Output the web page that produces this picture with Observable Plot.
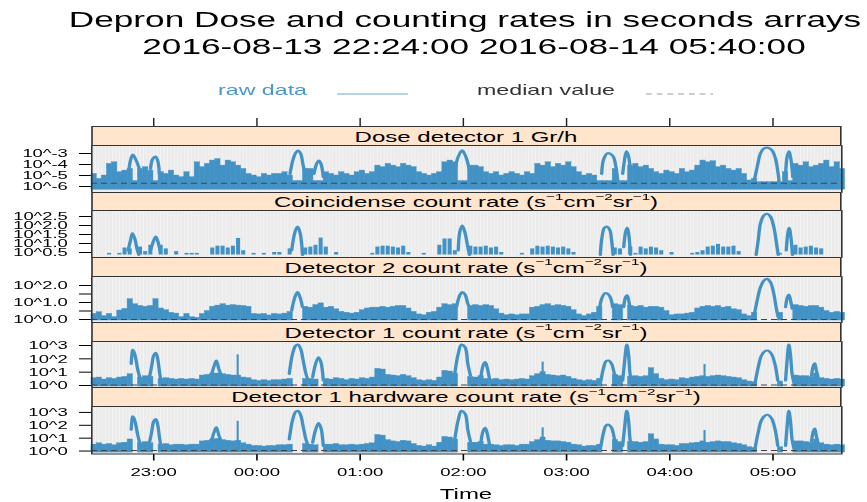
<!DOCTYPE html>
<html><head><meta charset="utf-8">
<script src="https://cdn.jsdelivr.net/npm/d3@7"></script>
<script src="https://cdn.jsdelivr.net/npm/@observablehq/plot@0.6"></script>
<style>
html,body{margin:0;padding:0;background:#fff;overflow:hidden;width:867px;height:502px}
#page{position:absolute;left:0;top:0;width:541.875px;height:502px;transform:scaleX(1.6);transform-origin:0 0;font-family:'Liberation Sans',Arial,Helvetica,sans-serif;}
.abs{position:absolute;white-space:nowrap;line-height:1}
.strip{position:absolute;left:56.875px;width:468.75px;background:#ffe5cc;border:1px solid #333;box-sizing:border-box;text-align:center;font-size:15px;color:#000;display:flex;align-items:center;justify-content:center;white-space:nowrap}
.sup{font-size:9.5px;position:relative;top:-5px;line-height:0}
.panel{position:absolute;left:0}
</style></head><body><div id="page"></div>
<script>
// ---------------- data (log10 values, 3-minute bins from 22:24) ----------------
const startLabel = "2016-08-13 22:24:00";
const endLabel = "2016-08-14 05:40:00";
const xTickLabels = ["23:00","00:00","01:00","02:00","03:00","04:00","05:00"];

const doseTicks = [-3,-4,-5,-6];
const doseTickLabels = ["10^-3","10^-4","10^-5","10^-6"];
const coincTicks = [2.5,2.0,1.5,1.0,0.5];
const coincTickLabels = ["10^2.5","10^2.0","10^1.5","10^1.0","10^0.5"];
const det2Ticks = [2.0,1.5,1.0,0.5,0.0];
const det2TickLabels = ["10^2.0","","10^1.0","","10^0.0"];
const det1Ticks = [3,2,1,0];
const det1TickLabels = ["10^3","10^2","10^1","10^0"];

const doseHi = [
-4.85,-5.3,-5.0,-3.94,-3.8,-4.7,-4.55,-4.4,-5.5,-4.4,
-4.24,-4.55,-5.5,-4.7,-4.85,-4.55,-5.0,-5.15,-4.7,-5.15,
-3.8,-4.24,-3.94,-3.64,-3.5,-4.1,-3.64,-3.8,-4.1,-4.4,
-4.85,-5.0,-5.15,-4.85,-5.0,-4.85,-4.85,-4.7,-5.0,-5.5,
-5.5,-4.4,-4.4,-5.5,-5.5,-4.7,-4.85,-5.0,-4.7,-4.85,
-5.0,-4.7,-4.55,-4.85,-4.7,-4.1,-4.24,-3.94,-4.1,-4.24,
-3.94,-4.1,-4.24,-4.7,-4.85,-5.0,-4.85,-4.7,-3.8,-3.64,
-3.8,-5.5,-5.5,-4.1,-4.1,-4.24,-4.7,-4.85,-4.7,-5.0,
-4.85,-4.7,-4.85,-5.0,-4.7,-4.85,-3.94,-4.1,-3.8,-4.24,
-3.94,-4.1,-3.8,-4.24,-4.7,-5.0,-4.85,-5.0,-5.5,-5.5,
-5.5,-4.4,-5.5,-5.5,-4.1,-3.94,-4.24,-4.1,-4.4,-4.7,
-4.85,-4.55,-4.7,-4.85,-4.4,-4.7,-4.55,-4.1,-3.64,-3.8,
-3.7,-4.24,-4.1,-4.4,-4.55,-4.4,-4.85,-5.45,-5.3,-5.6,
-5.6,-5.6,-5.6,-5.6,-4.7,-5.5,-3.94,-4.1,-3.8,-4.24,
-4.1,-3.94,-3.64,-4.24,-3.8,-4.4];
const doseArcs = [
["A",21.5,-4.55],["A",22.5,-3.64],["A",23.8,-3.1],["A",25.4,-3.5],["A",27.3,-4.24],["A",28.3,-4.85],
["B",34.1,-4.4],["B",35.4,-3.5],["B",37,-3.27],["B",38.3,-3.64],["B",39.3,-4.85],
["C",115.2,-4.85],["C",117.1,-3.5],["C",118.7,-2.9],["C",120,-2.73],["C",121.4,-3.0],["C",122.9,-4.1],["C",124.5,-5.15],
["D",129.1,-4.85],["D",130.7,-3.94],["D",132,-3.64],["D",133.2,-3.94],["D",134.6,-5.15],
["E",211,-4.55],["E",213,-3.3],["E",215.3,-2.7],["E",216.6,-3.0],["E",218.2,-3.64],["E",219.5,-4.55],
["F",296.4,-4.85],["F",297.6,-3.5],["F",299.9,-2.97],["F",302.8,-3.2],["F",304.7,-4.24],["F",305.7,-5.45],
["G",308.6,-4.85],["G",310,-3.3],["G",310.9,-2.79],["G",312.1,-3.3],["G",313.5,-5.15],
["H",384.9,-5.6],["H",386.8,-4.24],["H",388.7,-3.0],["H",390.7,-2.55],["H",393.2,-2.48],["H",395.5,-2.73],["H",397.5,-3.5],["H",399,-4.85],["H",399.8,-6.06],
["I",403.3,-4.85],["I",404.2,-3.3],["I",405.2,-2.79],["I",406.4,-3.5],["I",407.5,-5.15]];
const doseMedian = -5.7;

const coincHi = [
null,null,null,0.45,null,0.45,0.75,0.7,null,0.8,
0.55,0.9,null,0.9,0.7,null,0.55,null,0.45,0.45,
0.45,null,null,0.75,0.85,0.85,0.75,0.85,1.28,0.6,
null,0.45,null,0.45,null,0.5,0.5,null,0.7,null,
null,0.75,0.8,0.9,1.3,0.8,null,0.5,null,null,
null,null,null,null,0.45,0.8,0.85,0.85,0.8,0.75,
0.85,0.5,null,null,0.45,null,null,0.9,1.25,1.25,
0.6,null,null,0.85,0.8,0.8,0.85,0.75,0.8,0.5,
null,null,null,0.45,null,0.7,0.85,0.8,0.85,0.8,
0.75,0.8,0.7,0.5,null,null,null,null,null,null,
null,0.75,0.7,null,0.8,0.45,0.8,0.7,0.8,0.75,
0.6,null,0.5,null,null,null,0.45,0.5,0.6,0.8,
0.85,0.95,0.8,0.8,0.85,0.55,null,null,null,null,
null,null,null,0.45,null,null,0.9,0.75,0.8,0.85,
0.75,0.7,null,null,null,null];
const coincArcs = [
["A",21.1,0.61],["A",22.5,1.17],["A",23.6,1.57],["A",25,1.26],["A",26.3,0.7],["A",27.3,0.37],
["B",34.1,0.61],["B",36,1.17],["B",37.2,1.39],["B",38.5,1.08],["B",39.9,0.52],
["C",116.2,0.61],["C",118.1,1.63],["C",119.6,1.94],["C",121,1.63],["C",122.5,0.37],
["E",213,0.61],["E",213.9,1.63],["E",215.3,2.0],["E",216.6,1.72],["E",218.6,0.8],["E",219.5,0.37],
["F",295.6,0.37],["F",296.6,1.35],["F",298,1.87],["F",299.5,1.94],["F",301.1,1.76],["F",302.2,1.17],["F",303,0.37],
["G",309.2,0.8],["G",310.3,1.63],["G",311.2,1.87],["G",312.1,1.54],["G",313.1,0.37],
["H",386.2,0.37],["H",387.4,1.17],["H",388.7,2.1],["H",390.7,2.56],["H",392.6,2.65],["H",394.5,2.5],["H",396.5,1.91],["H",397.8,1.17],["H",399,0.37],
["I",403.7,0.61],["I",404.6,1.54],["I",405.4,1.87],["I",406.4,1.35],["I",407.3,0.37]];

const det2Hi = [
0.33,0.43,0.2,0.33,0.14,0.53,0.63,1.2,0.9,0.8,
0.75,0.8,1.2,0.65,0.55,0.4,0.35,0.14,0.33,0.14,
0.1,0.33,0.5,0.75,0.82,0.9,0.82,0.85,0.82,0.8,
0.75,0.33,0.3,0.33,0.24,0.33,0.3,0.35,0.45,null,
null,0.75,0.7,0.85,0.95,0.7,0.75,0.6,0.45,0.4,
0.35,0.4,0.55,0.65,0.7,0.7,0.75,0.7,0.75,0.8,
0.8,0.65,0.45,0.3,0.25,0.4,0.45,0.7,0.9,0.85,
0.9,null,null,0.8,0.85,0.8,0.85,0.8,0.6,0.35,
0.25,0.3,0.25,0.3,0.3,0.7,0.75,0.85,0.9,0.8,
0.85,0.8,0.75,0.55,0.3,0.2,0.3,0.4,0.75,null,
null,0.9,0.85,null,0.8,0.75,0.8,0.7,0.75,0.75,
0.7,0.5,0.25,0.3,0.3,0.35,0.4,0.65,0.75,0.8,
0.75,0.8,0.7,0.75,0.6,0.55,0.3,0.2,0.4,null,
null,null,null,0.4,null,null,0.85,0.8,0.75,0.8,
0.8,0.7,0.5,0.4,0.45,0.4];
const det2Arcs = [
["C",116.2,0.53],["C",118.1,1.32],["C",119.6,1.61],["C",121,1.32],["C",122.5,0.73],
["E",212,0.73],["E",213.9,1.42],["E",215.3,1.61],["E",217,1.47],["E",218.6,0.92],["E",219.5,0.73],
["F",295,0.53],["F",296.4,1.22],["F",298.4,1.55],["F",299.9,1.51],["F",301.4,1.32],["F",302.8,0.73],
["G",309.2,0.73],["G",310.3,1.32],["G",311.2,1.42],["G",312.1,1.12],["G",313.1,0.53],
["H",384.9,0.14],["H",386.8,1.12],["H",388.7,1.9],["H",390.7,2.29],["H",392.6,2.39],["H",394.5,2.2],["H",396.5,1.51],["H",397.8,0.73],["H",399,0.14],
["I",403.3,0.73],["I",404.4,1.32],["I",405.2,1.47],["I",406.2,1.12],["I",407.2,0.63]];
const det2Median = 0.0;

const det1Hi = [
0.55,0.6,0.45,0.55,0.5,0.6,0.65,0.85,null,0.6,
0.7,0.65,null,0.5,0.55,0.5,0.45,0.5,0.45,0.5,
0.45,0.75,0.8,0.9,0.9,0.85,0.8,0.75,0.75,0.6,
0.55,0.4,0.35,0.4,0.35,0.4,0.4,0.45,0.5,null,
null,0.5,0.5,0.45,null,0.5,0.45,0.55,0.5,0.4,
0.5,0.45,0.55,0.5,0.6,1.25,1.2,0.8,0.75,0.7,
0.8,0.7,0.55,0.4,0.35,0.4,0.35,0.6,1.1,1.05,
0.9,null,null,0.65,0.6,0.7,0.5,0.45,0.5,0.4,
0.45,0.4,0.45,0.5,0.45,0.7,0.85,1.0,0.8,0.75,
0.7,0.75,0.65,0.5,0.4,0.35,0.4,0.35,0.5,null,
null,0.8,0.7,null,0.65,0.7,0.65,0.7,1.3,0.85,
0.5,0.4,0.45,0.4,0.55,0.5,0.6,0.65,0.7,0.65,
0.7,0.75,0.7,0.65,0.6,0.55,0.4,0.3,0.25,null,
null,null,null,0.3,null,null,0.75,0.7,0.7,0.65,
0.9,0.55,0.5,0.45,0.5,0.45];
const det1Arcs = [
["A",22.9,1.62],["A",23.3,2.3],["A",23.8,2.67],["A",24.6,2.5],["A",25.4,2.12],["A",26.7,1.2],["A",28.3,0.4],
["B",33.1,0.37],["B",34.7,1.37],["B",36,2.25],["B",37.2,2.45],["B",38.3,2.0],["B",39.5,0.87],["B",40.5,0.12],
["h",69.5,0.75],["h",71.2,1.5],["h",72.4,1.87],["h",73.8,1.25],["h",75.3,0.75],
["C",114.8,0.87],["C",116.7,2.37],["C",118.5,2.99],["C",119.8,3.07],["C",121.4,2.75],["C",122.9,1.87],["C",124.5,0.87],["C",125.8,0.37],
["D",128.4,0.62],["D",130.1,1.62],["D",131.8,2.12],["D",133.2,1.75],["D",134.6,0.37],
["E",211,0.87],["E",213,2.37],["E",214.9,3.07],["E",217,2.87],["E",218.6,1.62],["E",220.1,0.75],
["e",226.3,0.75],["e",227.5,1.5],["e",228.7,1.75],["e",229.8,1.37],["e",231.2,0.5],
["F",296,0.37],["F",297.6,1.37],["F",298.9,1.82],["F",300.5,1.87],["F",302.2,1.62],["F",303.8,0.87],["F",305.3,0.12],
["G",308.6,0.37],["G",309.8,1.87],["G",311,3.07],["G",312,2.37],["G",312.9,0.87],["G",313.9,0.12],
["H",385.5,0.12],["H",387.4,1.37],["H",389.3,2.25],["H",391.3,2.57],["H",393,2.62],["H",395.1,2.37],["H",397.1,1.62],["H",398.8,0.37],
["I",403.3,0.37],["I",404.2,1.87],["I",405.2,3.07],["I",406.1,2.37],["I",407.1,0.87],["I",408.1,0.25],
["J",418.4,0.75],["J",419.5,1.5],["J",420.3,1.67],["J",421.2,1.12],["J",422.2,0.62]];
const det1Spikes = [[84.8,2.3],[262.1,1.75],[356.2,1.57]];
const det1Median = 0.04;

const hwHi = [
0.5,0.6,0.5,0.55,0.45,0.6,0.65,0.9,null,0.6,
0.7,0.6,null,0.5,0.55,0.45,0.5,0.5,0.45,0.5,
0.5,0.75,0.8,0.9,0.95,0.85,0.8,0.75,0.8,0.6,
0.5,0.4,0.4,0.35,0.4,0.4,0.45,0.45,0.5,null,
null,0.55,0.5,0.45,null,0.5,0.5,0.55,0.45,0.45,
0.5,0.45,0.5,0.55,0.6,1.25,1.2,0.85,0.75,0.7,
0.8,0.75,0.55,0.4,0.35,0.45,0.35,0.65,1.1,1.05,
0.9,null,null,0.65,0.65,0.7,0.5,0.5,0.45,0.4,
0.45,0.45,0.4,0.5,0.5,0.7,0.85,1.05,0.8,0.75,
0.75,0.7,0.65,0.5,0.45,0.35,0.4,0.4,0.5,null,
null,0.85,0.7,null,0.7,0.7,0.65,0.7,1.3,0.9,
0.5,0.45,0.45,0.4,0.55,0.55,0.6,0.65,0.75,0.65,
0.7,0.75,0.7,0.7,0.6,0.55,0.45,0.3,0.25,null,
null,null,null,0.3,null,null,0.75,0.75,0.7,0.65,
0.9,0.6,0.5,0.45,0.5,0.45];
const hwArcs = [
["A",22.9,1.65],["A",23.3,2.35],["A",23.8,2.69],["A",24.6,2.52],["A",25.4,2.15],["A",26.7,1.25],["A",28.3,0.4],
["B",33.1,0.4],["B",34.7,1.4],["B",36,2.3],["B",37.2,2.48],["B",38.3,2.05],["B",39.5,0.9],["B",40.5,0.15],
["h",69.5,0.75],["h",71.2,1.5],["h",72.4,1.85],["h",73.8,1.25],["h",75.3,0.75],
["C",114.8,0.9],["C",116.7,2.4],["C",118.5,3.05],["C",119.8,3.13],["C",121.4,2.8],["C",122.9,1.9],["C",124.5,0.9],["C",125.8,0.4],
["D",128.4,0.65],["D",130.1,1.65],["D",131.8,2.18],["D",133.2,1.8],["D",134.6,0.4],
["E",211,0.9],["E",213,2.4],["E",214.9,3.12],["E",217,2.9],["E",218.6,1.65],["E",220.1,0.75],
["e",226.3,0.75],["e",227.5,1.55],["e",228.7,1.8],["e",229.8,1.4],["e",231.2,0.5],
["F",296,0.4],["F",297.6,1.5],["F",298.9,1.98],["F",300.5,2.05],["F",302.2,1.8],["F",303.8,0.95],["F",305.3,0.15],
["G",308.6,0.4],["G",309.8,1.9],["G",311,3.13],["G",312,2.4],["G",312.9,0.9],["G",313.9,0.15],
["H",385.5,0.15],["H",387.4,1.45],["H",389.3,2.4],["H",391.3,2.75],["H",393,2.82],["H",395.1,2.55],["H",397.1,1.75],["H",398.8,0.4],
["I",403.3,0.4],["I",404.2,1.9],["I",405.2,3.13],["I",406.1,2.4],["I",407.1,0.9],["I",408.1,0.25],
["J",418.4,0.75],["J",419.5,1.55],["J",420.3,1.75],["J",421.2,1.15],["J",422.2,0.62]];
const hwSpikes = [[84.8,2.31],[262.1,1.8],[356.2,1.6]];
const hwMedian = 0.04;

// ---------------- layout / styles ----------------
const SX = 1.6;
const W = 867 / SX, ML = 91 / SX, MR = W - 841 / SX;
const BLUE = "#4392c6";
const BIN = 3;
const parseT = d3.utcParse("%Y-%m-%d %H:%M:%S");
const start = parseT(startLabel), end = parseT(endLabel);
const T = m => new Date(start.getTime() + m * 60000);
const xTickDates = xTickLabels.map(s => {
  const h = +s.slice(0, 2), mi = +s.slice(3);
  return new Date(Date.UTC(2016, 7, h >= 12 ? 13 : 14, h, mi));
});
const xLabelMap = new Map(xTickDates.map((d, i) => [+d, xTickLabels[i]]));
const grid = d3.utcMinute.every(2).range(start, end);
const page = document.getElementById("page");
const FONT = "'Liberation Sans', Arial, Helvetica, sans-serif";

function addDiv(html, style, cls = "abs") {
  const d = document.createElement("div");
  d.className = cls; d.innerHTML = html; Object.assign(d.style, style); page.appendChild(d); return d;
}

// title
addDiv("Depron Dose and counting rates in seconds arrays", {top: "9.4px", left: (465 / SX) + "px", transform: "translateX(-50%)", fontSize: "22px", color: "#000"});
addDiv(startLabel + " " + endLabel, {top: "36.4px", left: (474 / SX) + "px", transform: "translateX(-50%)", fontSize: "22px", color: "#000"});

// legend
addDiv("raw data", {top: "82.7px", left: (218 / SX) + "px", fontSize: "14.5px", color: "#4a97cf"});
addDiv("median value", {top: "82.7px", left: (477 / SX) + "px", fontSize: "14.5px", color: "#333"});
addDiv(`<svg width="${W}" height="10"><line x1="${337/SX}" x2="${408/SX}" y1="5" y2="5" stroke="#9cc5e4" stroke-width="1.6"/><line x1="${646/SX}" x2="${713/SX}" y1="5" y2="5" stroke="#9a9a9a" stroke-width="1.2" stroke-dasharray="3.6,3.1"/></svg>`, {top: "86px", left: "0px"});

const unit = `(s<span class="sup">−1</span>cm<span class="sup">−2</span>sr<span class="sup">−1</span>)`;
const panels = [
  {title: "Dose detector 1 Gr/h", stripTop: 126, top: 145, bottom: 192, domain: [-6.545, -2.273], ticks: doseTicks, labels: doseTickLabels, floor: -6.3, hi: doseHi, arcs: doseArcs, spikes: [], median: doseMedian, inset: 0},
  {title: "Coincidense count rate " + unit, stripTop: 192, top: 210, bottom: 257, domain: [0.222, 2.833], ticks: coincTicks, labels: coincTickLabels, floor: 0.36, hi: coincHi, arcs: coincArcs, spikes: [], median: null, inset: 0.35},
  {title: "Detector 2 count rate " + unit, stripTop: 257, top: 276, bottom: 322, domain: [-0.176, 2.53], ticks: det2Ticks, labels: det2TickLabels, floor: -0.06, hi: det2Hi, arcs: det2Arcs, spikes: [], median: det2Median, inset: 0},
  {title: "Detector 1 count rate " + unit, stripTop: 322, top: 341, bottom: 387, domain: [-0.15, 3.3], ticks: det1Ticks, labels: det1TickLabels, floor: -0.08, hi: det1Hi, arcs: det1Arcs, spikes: det1Spikes, median: det1Median, inset: 0},
  {title: "Detector 1 hardware count rate " + unit, stripTop: 387, top: 405.5, bottom: 453, domain: [-0.23, 3.46], ticks: det1Ticks, labels: det1TickLabels, floor: -0.12, hi: hwHi, arcs: hwArcs, spikes: hwSpikes, median: hwMedian, inset: 0, xAxis: true}
];

const baseStyle = {fontFamily: FONT, fontSize: "11.5px", overflow: "visible", background: "transparent", color: "#000"};

// top ticks (above first strip)
{
  const svg = Plot.plot({
    width: W, height: 8.5, marginLeft: ML, marginRight: MR, marginTop: 0, marginBottom: 0,
    x: {type: "utc", domain: [start, end], axis: null},
    style: baseStyle,
    marks: [Plot.tickX(xTickDates, {x: d => d, stroke: "#222", strokeWidth: 0.9})]
  });
  const wrap = document.createElement("div"); wrap.className = "panel"; wrap.style.top = "117.5px";
  wrap.appendChild(svg); page.appendChild(wrap);
}

for (const p of panels) {
  const h = p.bottom - p.top;
  const mb = p.xAxis ? 49 : 0;
  const rows = p.hi.map((v, k) => ({x1: T(k * BIN), x2: T((k + 1) * BIN), v})).filter(d => d.v != null);
  const arcs = p.arcs.map(([id, m, v]) => ({id, x: T(m), v}));
  const spikes = p.spikes.map(([m, v]) => ({x: T(m), v}));
  const labelMap = new Map(p.ticks.map((t, i) => [t, p.labels[i]]));
  const marks = [
    Plot.frame({fill: "#ebebeb"}),
    Plot.ruleX(grid, {x: d => d, stroke: "#f8f8f8", strokeWidth: 0.5}),
    Plot.rectY(rows, {x1: "x1", x2: "x2", y1: p.floor, y2: "v", fill: BLUE, stroke: p.inset ? "none" : BLUE, strokeWidth: 0.35, insetLeft: p.inset, insetRight: p.inset}),
    Plot.ruleX(spikes, {x: "x", y1: p.floor, y2: "v", stroke: BLUE, strokeWidth: 1.3}),
    Plot.line(arcs, {x: "x", y: "v", z: "id", stroke: BLUE, strokeWidth: 2.1, curve: "catmull-rom"}),
  ];
  if (p.median != null) marks.push(Plot.ruleY([p.median], {stroke: "#444", strokeWidth: 1, strokeDasharray: "3.75,2.5"}));
  marks.push(Plot.frame({stroke: "#333", strokeWidth: 1}));
  const svg = Plot.plot({
    width: W, height: h + mb, marginLeft: ML, marginRight: MR, marginTop: 0, marginBottom: mb,
    x: p.xAxis
      ? {type: "utc", domain: [start, end], ticks: xTickDates, tickFormat: d => xLabelMap.get(+d), tickSize: 7, tickPadding: 7, label: null}
      : {type: "utc", domain: [start, end], axis: null},
    y: {domain: p.domain, ticks: p.ticks, tickFormat: d => labelMap.get(d), tickSize: 7.5, tickPadding: 7.5, label: null},
    style: {...baseStyle, fontSize: p.xAxis ? "11.6px" : "11.5px"},
    marks
  });
  const wrap = document.createElement("div"); wrap.className = "panel"; wrap.style.top = p.top + "px";
  wrap.appendChild(svg); page.appendChild(wrap);
  addDiv(p.title, {top: p.stripTop + "px", height: (p.top - p.stripTop + 1) + "px"}, "strip");
}

addDiv("Time", {top: "485.5px", left: (466 / SX) + "px", transform: "translateX(-50%)", fontSize: "15px", color: "#000"});
</script></body></html>
